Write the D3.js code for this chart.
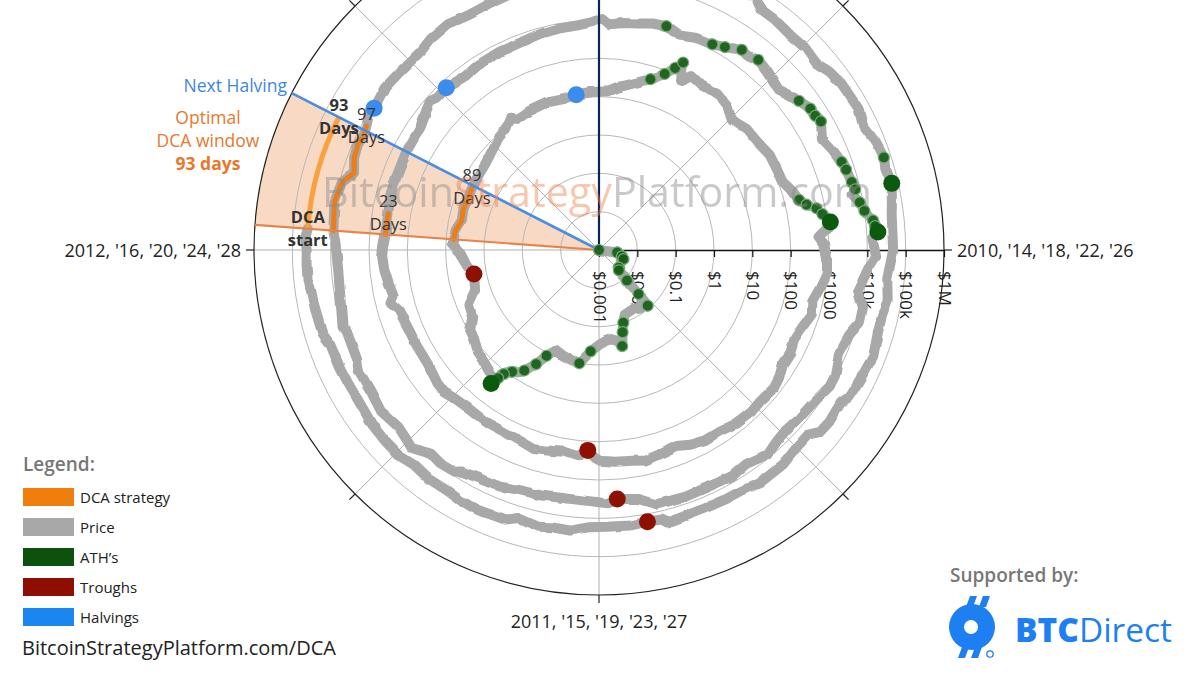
<!DOCTYPE html>
<html><head><meta charset="utf-8">
<script src="https://cdn.jsdelivr.net/npm/d3@7"></script>
<style>
body{margin:0;background:#fff}
svg{display:block;font-family:"Open Sans","Noto Sans",sans-serif}
</style>
</head><body>
<svg id="c" width="1200" height="675"></svg>
<script>
// ---------------- DATA ----------------
const priceDates = [
"2010-01-01","2010-02-01","2010-03-05","2010-03-25","2010-04-20","2010-05-20","2010-06-20","2010-07-05","2010-07-12","2010-07-15",
"2010-07-18","2010-07-25","2010-08-10","2010-08-30","2010-09-20","2010-10-05","2010-10-18","2010-10-28","2010-11-07","2010-11-15",
"2010-12-01","2010-12-15","2011-01-01","2011-01-20","2011-02-10","2011-03-01","2011-03-20","2011-04-05","2011-04-18","2011-04-28",
"2011-05-10","2011-05-25","2011-06-02","2011-06-05","2011-06-08","2011-06-15","2011-07-01","2011-07-20","2011-08-10","2011-08-25",
"2011-09-10","2011-10-01","2011-10-20","2011-11-18","2011-12-05","2011-12-25","2012-01-10","2012-01-18","2012-02-01","2012-02-20",
"2012-03-10","2012-03-25","2012-04-16","2012-05-10","2012-06-01","2012-06-25","2012-07-15","2012-08-01","2012-08-17","2012-08-25",
"2012-09-15","2012-10-15","2012-11-10","2012-11-28","2012-12-20","2013-01-15","2013-02-01","2013-02-20","2013-03-10","2013-03-25",
"2013-04-03","2013-04-09","2013-04-16","2013-04-25","2013-05-10","2013-06-01","2013-06-20","2013-07-05","2013-07-25","2013-08-15",
"2013-09-05","2013-09-25","2013-10-10","2013-10-25","2013-11-05","2013-11-12","2013-11-18","2013-11-25","2013-12-04","2013-12-10",
"2013-12-18","2013-12-26","2014-01-10","2014-01-25","2014-02-10","2014-02-25","2014-03-10","2014-03-25","2014-04-10","2014-04-25",
"2014-05-10","2014-05-25","2014-06-05","2014-06-25","2014-07-10","2014-07-30","2014-08-18","2014-09-05","2014-09-22","2014-10-05",
"2014-10-25","2014-11-12","2014-11-25","2014-12-15","2014-12-31","2015-01-05","2015-01-14","2015-01-25","2015-02-10","2015-03-01",
"2015-03-15","2015-04-01","2015-04-20","2015-05-15","2015-06-10","2015-07-01","2015-07-12","2015-07-25","2015-08-18","2015-09-10",
"2015-10-01","2015-10-25","2015-11-04","2015-11-11","2015-11-25","2015-12-10","2015-12-25","2016-01-05","2016-01-18","2016-02-10",
"2016-03-01","2016-03-25","2016-04-20","2016-05-20","2016-06-01","2016-06-17","2016-06-25","2016-07-09","2016-08-02","2016-08-20",
"2016-09-15","2016-10-10","2016-10-30","2016-11-20","2016-12-10","2016-12-25","2017-01-04","2017-01-12","2017-01-25","2017-02-10",
"2017-02-24","2017-03-10","2017-03-25","2017-04-10","2017-04-28","2017-05-10","2017-05-25","2017-06-01","2017-06-12","2017-06-25",
"2017-07-16","2017-07-28","2017-08-05","2017-08-17","2017-08-25","2017-09-01","2017-09-15","2017-09-28","2017-10-12","2017-10-20",
"2017-11-01","2017-11-08","2017-11-12","2017-11-20","2017-11-28","2017-12-07","2017-12-12","2017-12-17","2017-12-22","2018-01-06",
"2018-01-17","2018-02-06","2018-02-20","2018-03-05","2018-03-18","2018-04-06","2018-04-25","2018-05-05","2018-05-28","2018-06-12",
"2018-06-28","2018-07-10","2018-07-24","2018-08-14","2018-08-30","2018-09-15","2018-10-15","2018-11-10","2018-11-20","2018-11-25",
"2018-12-15","2018-12-24","2019-01-10","2019-02-01","2019-02-25","2019-03-20","2019-04-03","2019-04-25","2019-05-10","2019-05-15",
"2019-05-30","2019-06-10","2019-06-26","2019-07-05","2019-07-17","2019-08-06","2019-08-25","2019-09-15","2019-09-25","2019-10-20",
"2019-10-26","2019-11-25","2019-12-18","2020-01-05","2020-01-18","2020-02-12","2020-03-01","2020-03-12","2020-03-25","2020-04-06",
"2020-04-15","2020-04-24","2020-05-07","2020-05-11","2020-06-01","2020-06-20","2020-07-15","2020-07-28","2020-08-17","2020-09-05",
"2020-09-25","2020-10-15","2020-10-25","2020-11-10","2020-11-25","2020-12-10","2020-12-17","2020-12-31","2021-01-08","2021-01-22",
"2021-02-08","2021-02-21","2021-02-28","2021-03-13","2021-03-25","2021-04-14","2021-04-25","2021-05-10","2021-05-19","2021-06-01",
"2021-06-22","2021-07-05","2021-07-20","2021-08-01","2021-08-14","2021-09-07","2021-09-21","2021-10-06","2021-10-20","2021-10-28",
"2021-11-10","2021-11-26","2021-12-04","2021-12-20","2022-01-01","2022-01-10","2022-01-24","2022-02-10","2022-02-24","2022-03-10",
"2022-03-28","2022-04-10","2022-04-26","2022-05-05","2022-05-12","2022-05-30","2022-06-10","2022-06-18","2022-07-01","2022-07-20",
"2022-08-14","2022-08-30","2022-09-15","2022-10-01","2022-10-25","2022-11-05","2022-11-09","2022-11-21","2022-12-05","2022-12-25",
"2023-01-10","2023-01-25","2023-02-10","2023-02-20","2023-03-10","2023-03-20","2023-04-14","2023-04-28","2023-05-12","2023-05-30",
"2023-06-15","2023-06-30","2023-07-15","2023-08-01","2023-08-18","2023-09-10","2023-09-25","2023-10-15","2023-10-25","2023-11-15",
"2023-12-01","2023-12-08","2023-12-20","2024-01-01","2024-01-11","2024-01-18"];
const priceValues = [
0.0009,0.003,0.0042,0.0048,0.0046,0.0047,0.0049,0.0055,0.012,0.035,
0.085,0.055,0.07,0.06,0.062,0.065,0.1,0.17,0.38,0.27,
0.22,0.24,0.3,0.45,1.0,0.9,0.8,0.7,1.2,2.5,
5,8,12,18,30,20,16,14,10,9,
5.5,4.9,2.5,2.1,3,4,7,6.4,6,4.6,
5,4.7,4.9,5,5.3,6.5,8.5,9.5,14,10.5,
11.5,12,11,12.4,13.4,14,20,29,45,80,
140,230,80,140,115,128,105,70,95,100,
125,125,128,190,240,350,600,800,1200,950,
550,750,900,950,700,530,630,480,400,460,
440,580,650,590,630,585,480,480,400,320,
355,420,370,345,315,270,172,255,220,255,
290,245,225,235,225,255,300,290,230,235,
238,285,410,310,360,420,455,430,385,378,
430,415,440,445,535,750,620,650,530,580,
610,615,700,740,770,890,1130,780,900,990,
1180,1250,940,1200,1340,1700,2600,2400,2950,2550,
1930,2700,3200,4300,4350,4900,3200,4200,5400,6000,
6700,7400,5900,8200,10000,15500,17000,19500,13500,17100,
11000,6900,11200,11500,7800,6600,9500,9800,7100,6600,
5900,6400,8200,6000,7000,6500,6600,6400,4500,3800,
3250,4100,3600,3450,3800,4050,4900,5400,6300,8000,
8600,7700,12900,11000,9500,11800,10100,10300,8400,8200,
9500,7000,6700,7400,8900,10300,8600,5000,6700,7300,
6700,7500,9900,8600,10100,9300,9200,11000,12200,10200,
10700,11500,13100,15300,19000,18200,23000,29000,40500,32000,
46000,57000,45000,61000,52000,64000,49000,56000,37000,36500,
32000,34000,29800,40000,47000,51000,41000,55000,65000,59000,
68000,54000,49000,46500,47000,41800,36000,44000,38000,39000,
47000,42000,38000,36000,29000,31500,29500,19000,19300,23500,
24300,20000,19700,19300,20000,21300,16500,15800,17100,16800,
17400,23000,21800,24500,20000,28000,30500,29300,26300,27700,
25000,30500,30300,29400,26000,25800,26300,27000,34500,37000,
38700,44000,43500,42300,46500,41500];

const halvingDates   = ["2012-11-28","2016-07-09","2020-05-11"];
const nextHalvingDate = "2024-04-20";
const troughDates    = ["2011-11-18","2015-01-14","2018-12-15","2022-11-21"];
const peakDates      = ["2011-06-08","2013-12-04","2017-12-17","2021-11-10"];
const dcaStartDates  = ["2012-01-18","2016-01-18","2020-01-18","2024-01-18"];
const dcaDays        = [89, 23, 97, 93];
const radialTicks      = [0.001,0.01,0.1,1,10,100,1000,10000,100000,1000000];
const radialTickLabels = ["$0.001","$0.01","$0.1","$1","$10","$100","$1000","$10k","$100k","$1M"];
const angularLabels  = ["2010, '14, '18, '22, '26","2011, '15, '19, '23, '27","2012, '16, '20, '24, '28"];
const legendLabels   = ["DCA strategy","Price","ATH\u2019s","Troughs","Halvings"];
const legendColors   = ["#f07e0c","#a8a8a8","#0c520c","#8e0f02","#1a86f0"];

// ---------------- SETUP ----------------
const svg = d3.select("#c");
const cx = 599, cy = 250, R = 345;
const toYear = s => { const [y,m,d] = s.split("-").map(Number);
  const t = Date.UTC(y,m-1,d), a = Date.UTC(y,0,1), b = Date.UTC(y+1,0,1); return y + (t-a)/(b-a); };
const theta = d3.scaleLinear().domain([2010, 2014]).range([0, 2*Math.PI]); // clockwise from 3 o'clock
const rad = d3.scaleLog().domain([0.001, 1e6]).range([0, R]).clamp(true);
const A = t => theta(t) + Math.PI/2; // d3 radial convention (0 at 12 o'clock)
const data = priceDates.map((d,i) => ({date:d, t:toYear(d), p:priceValues[i]}));
const byDate = new Map(data.map(d => [d.date, d]));
const XY = (t,p) => [rad(p)*Math.cos(theta(t)), rad(p)*Math.sin(theta(t))];
const radial = d3.lineRadial().angle(d => A(d.t)).radius(d => rad(d.p)).curve(d3.curveLinear);

// lumpy edge filter for the thick price line (texture only)
const defs = svg.append("defs");
const f = defs.append("filter").attr("id","rough").attr("x","-5%").attr("y","-5%").attr("width","110%").attr("height","110%");
f.append("feTurbulence").attr("type","fractalNoise").attr("baseFrequency",0.07).attr("numOctaves",1).attr("seed",5).attr("result","n");
f.append("feDisplacementMap").attr("in","SourceGraphic").attr("in2","n").attr("scale",4)
  .attr("xChannelSelector","R").attr("yChannelSelector","G");

const g = svg.append("g").attr("transform", `translate(${cx},${cy})`);

// DCA wedge
const tStart = toYear(dcaStartDates[3]), tHalv = toYear(nextHalvingDate);
g.append("path")
  .attr("d", d3.arc()({innerRadius:0, outerRadius:R, startAngle:A(tStart), endAngle:A(tHalv)}))
  .attr("fill", "#e9823c").attr("fill-opacity", 0.3);

// grid circles
g.selectAll("circle.grid").data(radialTicks.slice(1, -1)).join("circle")
  .attr("r", d => rad(d)).attr("fill", "none").attr("stroke", "#b8b8b8").attr("stroke-width", 1);
// spokes
const spokeAngles = d3.range(8).map(k => k*Math.PI/4);
g.selectAll("line.spoke").data(spokeAngles.filter((a,i) => i !== 0 && i !== 6)).join("line")
  .attr("x1", 0).attr("y1", 0)
  .attr("x2", a => R*Math.cos(a)).attr("y2", a => R*Math.sin(a))
  .attr("stroke", "#b0b0b0").attr("stroke-width", 1);
// outer circle
g.append("circle").attr("r", R).attr("fill", "none").attr("stroke", "#222").attr("stroke-width", 1.2);
// angular ticks
g.selectAll("line.atick").data(spokeAngles).join("line")
  .attr("x1", a => R*Math.cos(a)).attr("y1", a => R*Math.sin(a))
  .attr("x2", a => (R+8)*Math.cos(a)).attr("y2", a => (R+8)*Math.sin(a))
  .attr("stroke", "#222").attr("stroke-width", 1.2);
// angular labels (the top one lies outside the picture)
angularLabels.forEach((lab, i) => {
  const a = i*Math.PI/2;
  const Rl = (i % 2 === 0) ? R + 13 : R + 26;
  g.append("text").attr("x", Rl*Math.cos(a)).attr("y", Rl*Math.sin(a))
    .attr("text-anchor", i === 0 ? "start" : (i === 2 ? "end" : "middle"))
    .attr("dominant-baseline", "central")
    .attr("font-size", 18).attr("fill", "#222").text(lab);
});

// radial axis
const axis = g.append("g").call(
  d3.axisBottom(rad).tickValues(radialTicks).tickFormat((d,i) => radialTickLabels[i]).tickSize(7).tickSizeOuter(0));
axis.select(".domain").attr("stroke", "#111").attr("stroke-width", 1.3);
axis.selectAll(".tick line").attr("stroke", "#111").attr("stroke-width", 1.2);
axis.selectAll(".tick text")
  .attr("transform", "rotate(90)").attr("x", 21).attr("y", 0).attr("dy", "0.35em")
  .attr("text-anchor", "start").attr("font-size", 17).attr("fill", "#222")
  .attr("font-family", '"Open Sans","Noto Sans",sans-serif');

// price line
g.append("path").datum(data).attr("d", radial)
  .attr("fill", "none").attr("stroke", "#a8a8a8").attr("stroke-width", 10)
  .attr("stroke-linejoin", "round").attr("stroke-linecap", "round")
  .attr("filter", "url(#rough)");

// DCA segments (historic cycles)
const segEnds = [];
dcaStartDates.forEach((s, i) => {
  const t0 = toYear(s), t1 = t0 + dcaDays[i]/365.25;
  if (i < 3) {
    const seg = data.filter(d => d.t >= t0 - 1e-6 && d.t <= t1 + 0.0005);
    g.append("path").datum(seg).attr("d", radial)
      .attr("fill", "none").attr("stroke", "#ec7d18").attr("stroke-width", 5)
      .attr("stroke-linejoin", "round").attr("stroke-linecap", "round");
    const last = seg[seg.length-1];
    segEnds.push({xy: XY(last.t, last.p), n: dcaDays[i], bold:false});
  }
});
// projected 2024 window at last price
const lastP = data[data.length-1].p;
g.append("path")
  .attr("d", d3.arc()({innerRadius: rad(lastP)-2.5, outerRadius: rad(lastP)+2.5,
     startAngle: A(tStart), endAngle: A(tHalv), cornerRadius: 2.5}))
  .attr("fill", "#f7a23e");
segEnds.push({xy: XY(tHalv, lastP), n: dcaDays[3], bold:true});

// wedge edges
const edge = (t, col, w) => g.append("line").attr("x1",0).attr("y1",0)
  .attr("x2", R*Math.cos(theta(t))).attr("y2", R*Math.sin(theta(t)))
  .attr("stroke", col).attr("stroke-width", w);
edge(tStart, "#e8844a", 2.2);
edge(tHalv, "#4a8de3", 2.6);

// navy vertical line
g.append("line").attr("x1",0).attr("y1",0).attr("x2",0).attr("y2",-R)
  .attr("stroke", "#0c2450").attr("stroke-width", 2.2);

// ATH dots (new running highs)
let runMax = -Infinity; const aths = [];
data.forEach(d => { if (d.p > runMax) { runMax = d.p; aths.push(d); } });
g.selectAll("circle.ath").data(aths).join("circle")
  .attr("cx", d => XY(d.t,d.p)[0]).attr("cy", d => XY(d.t,d.p)[1]).attr("r", 5.5)
  .attr("fill", "#125d14").attr("fill-opacity", 0.9)
  .attr("stroke", "#76aa76").attr("stroke-width", 1.2);
const bigDot = (dates, col) => g.selectAll(null).data(dates.map(d => byDate.get(d))).join("circle")
  .attr("cx", d => XY(d.t,d.p)[0]).attr("cy", d => XY(d.t,d.p)[1]).attr("r", 8.5).attr("fill", col);
bigDot(peakDates, "#0b5a0d");
bigDot(troughDates, "#8e1000");
bigDot(halvingDates, "#3b8cec");

// segment labels
const lab = (x, y, t, bold) => g.append("text").attr("x", x).attr("y", y)
  .attr("text-anchor","middle").attr("dominant-baseline","central")
  .attr("font-size", 16.5).attr("font-weight", bold ? 700 : 400).attr("fill", "#333").text(t);
segEnds.forEach(s => { const [x,y] = s.xy; lab(x, y-13, s.n, s.bold); lab(x, y+10, "Days", s.bold); });
{ const [x,y] = XY(tStart, lastP); lab(x, y-12, "DCA", true); lab(x, y+11, "start", true); }

// annotations left of wedge
svg.append("text").attr("x", 287).attr("y", 85).attr("text-anchor","end").attr("dominant-baseline","central")
  .attr("font-size", 17.5).attr("fill", "#3f86df").text("Next Halving");
[["Optimal",117,400],["DCA window",140,400],["93 days",163,700]].forEach(([t,y,w]) =>
  svg.append("text").attr("x", 208).attr("y", y).attr("text-anchor","middle").attr("dominant-baseline","central")
    .attr("font-size", 17.5).attr("font-weight", w).attr("fill", "#e8782a").text(t));

// watermark
const wm = svg.append("text").attr("x", 0).attr("y", 207).attr("font-size", 38).attr("opacity", 0.45);
wm.append("tspan").attr("fill", "#8a8a8a").text("Bitcoin");
wm.append("tspan").attr("fill", "#ee8450").text("Strategy");
wm.append("tspan").attr("fill", "#8a8a8a").text("Platform.com");
{ const b0 = wm.node().getBBox(); const fs = 38*550/b0.width; wm.attr("font-size", fs);
  const b1 = wm.node().getBBox(); wm.attr("x", 322 - b1.x); }

// legend
svg.append("text").attr("x", 23).attr("y", 471).attr("font-size", 19).attr("font-weight", 600)
  .attr("fill", "#777").text("Legend:");
legendLabels.forEach((lb, i) => {
  const y = 488 + i*30;
  svg.append("rect").attr("x", 23).attr("y", y).attr("width", 51).attr("height", 18).attr("fill", legendColors[i]);
  svg.append("text").attr("x", 80).attr("y", y+9).attr("dominant-baseline","central")
    .attr("font-size", 15).attr("fill", "#222").text(lb);
});
svg.append("text").attr("x", 22).attr("y", 655).attr("font-size", 20).attr("fill", "#222")
  .text("BitcoinStrategyPlatform.com/DCA");

// supported by + logo
svg.append("text").attr("x", 950).attr("y", 582).attr("font-size", 19).attr("font-weight", 600)
  .attr("fill", "#777").text("Supported by:");
const blue = "#1d7ff2";
const logo = svg.append("g");
[[966,607,970,596,977,596,973,607],[979,607,983,596,990,596,986,607],
 [958,658,962,647,969,647,965,658],[971,658,975,647,982,647,978,658]].forEach(p =>
  logo.append("polygon").attr("points", `${p[0]},${p[1]} ${p[2]},${p[3]} ${p[4]},${p[5]} ${p[6]},${p[7]}`).attr("fill", blue));
logo.append("circle").attr("cx", 972).attr("cy", 627).attr("r", 23).attr("fill", blue);
logo.append("circle").attr("cx", 971).attr("cy", 627).attr("r", 7).attr("fill", "#fff");
logo.append("circle").attr("cx", 990).attr("cy", 654).attr("r", 3.2).attr("fill", "none").attr("stroke", blue).attr("stroke-width", 1.3);
const bt = svg.append("text").attr("x", 1015).attr("y", 642).attr("font-size", 31).attr("fill", blue);
bt.append("tspan").attr("font-weight", 800).text("BTC");
bt.append("tspan").attr("font-weight", 400).text("Direct");
{ const L = bt.node().getBBox().width; bt.attr("font-size", 31*157/L); }
</script>
</body></html>
